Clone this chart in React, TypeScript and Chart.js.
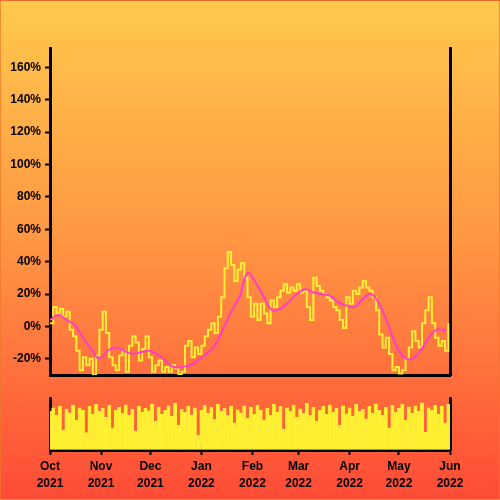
import { useEffect, useRef } from "react";
import { Chart, registerables } from "chart.js";
Chart.register(...registerables);

// daily % change sampled every 2 days, starting 1 Oct 2021
const dayStep = 2;
const priceChange = [
  2, 12, 8, 11, 6, 9, -2, -6, -15, -27,
  -19, -24, -20, -30, -18, -2, 9, -4, -19, -24,
  -27, -18, -15, -28, -12, -6, -10, -21, -14, -6,
  -19, -28, -24, -21, -28, -25, -28, -24, -26, -30,
  -28, -12, -9, -19, -13, -17, -12, -6, -2, 2,
  -4, 6, 18, 36, 46, 38, 28, 35, 39, 30,
  18, 6, 14, 4, 14, 8, 2, 16, 12, 18,
  22, 26, 21, 24, 22, 26, 21, 22, 12, 4,
  30, 25, 22, 20, 18, 16, 12, 10, 4, -1,
  18, 14, 22, 20, 24, 28, 24, 22, 18, 10,
  -5, -13, -7, -17, -27, -25, -29, -27, -20, -13,
  -3, -9, -13, 2, 10, 18, 2, -7, -12, -9,
  -15, 2,
];

// smoothed % change sampled every 5 days
const smoothStep = 5;
const smoothChange = [
  4, 7, 4, 1, -7, -14, -20, -15, -13, -15,
  -17, -16, -15, -17, -21, -25, -25, -24, -21, -17,
  -12, -2, 9, 18, 33, 27, 18, 10, 11, 15,
  20, 23, 21, 20, 19, 15, 13, 12, 17, 20,
  14, 2, -11, -19, -20, -15, -7, -2, -2.5,
];

// volume every 2 days
const volume = [
  78, 85, 70, 88, 40, 82, 75, 90, 60, 85,
  80, 35, 88, 72, 92, 78, 84, 66, 90, 45,
  80, 86, 74, 91, 70, 82, 38, 88, 76, 84,
  79, 93, 58, 86, 72, 80, 89, 68, 94, 50,
  82, 76, 88, 71, 85, 30, 80, 90, 74, 86,
  62, 92, 78, 84, 70, 88, 55, 81, 75, 89,
  64, 86, 72, 90, 80, 60, 84, 70, 92, 76,
  88, 42, 85, 78, 90, 66, 83, 74, 94, 70,
  86, 58, 80, 88, 72, 91, 76, 84, 50, 89,
  73, 85, 68, 92, 78, 82, 63, 88, 74, 93,
  80, 70, 86, 45, 90, 76, 84, 92, 60, 87,
  74, 89, 78, 95, 36, 85, 80, 90, 72, 88,
  55, 92,
];

const monthDays = [0, 31, 61, 92, 123, 151, 182, 212, 243];
const monthLabels = [
  ["Oct", "2021"], ["Nov", "2021"], ["Dec", "2021"], ["Jan", "2022"],
  ["Feb", "2022"], ["Mar", "2022"], ["Apr", "2022"], ["May", "2022"], ["Jun", "2022"],
];
const yTicks = [-20, 0, 20, 40, 60, 80, 100, 120, 140, 160];

export default function App() {
  const mainRef = useRef<HTMLCanvasElement>(null);
  const barRef = useRef<HTMLCanvasElement>(null);

  useEffect(() => {
    document.body.style.margin = "0";
    const font = { family: "'Liberation Sans', Arial, sans-serif", size: 12, weight: "bold" };
    const black = "#000";

    const main = new Chart(mainRef.current!, {
      type: "line",
      data: {
        datasets: [
          {
            data: smoothChange.map((v, i) => ({ x: i * smoothStep, y: v })),
            borderColor: "#FF3DC8",
            borderWidth: 2,
            pointRadius: 0,
            tension: 0.4,
            fill: false,
          },
          {
            data: priceChange.map((v, i) => ({ x: i * dayStep, y: v })),
            borderColor: "#FFF035",
            borderWidth: 2,
            pointRadius: 0,
            stepped: true,
            fill: false,
          },
        ],
      },
      options: {
        animation: false,
        responsive: false,
        maintainAspectRatio: false,
        layout: { padding: { top: 48, left: 0, right: 0, bottom: 0 } },
        plugins: { legend: { display: false }, tooltip: { enabled: false } },
        scales: {
          x: {
            type: "linear",
            min: 0,
            max: 243,
            ticks: { display: false },
            grid: { drawOnChartArea: false, drawTicks: false },
            border: { color: black, width: 3 },
            afterFit: (s: any) => { s.height = 125; },
          },
          y: {
            type: "linear",
            position: "left",
            min: -30,
            max: 172,
            afterBuildTicks: (s: any) => { s.ticks = yTicks.map((v) => ({ value: v })); },
            ticks: { callback: (v: any) => v + "%", color: black, font, padding: 4 },
            grid: { drawOnChartArea: false, drawTicks: true, tickLength: 5, tickColor: black, tickWidth: 2 },
            border: { color: black, width: 3 },
            afterFit: (s: any) => { s.width = 50; },
          },
          y2: {
            type: "linear",
            position: "right",
            min: -30,
            max: 172,
            ticks: { display: false },
            grid: { drawOnChartArea: false, drawTicks: false },
            border: { color: black, width: 3 },
            afterFit: (s: any) => { s.width = 50; },
          },
        },
      } as any,
    });

    const bars = new Chart(barRef.current!, {
      type: "bar",
      data: {
        datasets: [
          {
            data: volume.map((v, i) => ({ x: i * dayStep, y: v })),
            backgroundColor: "#FFF033",
            borderColor: "#FFF033",
            borderWidth: 0.6,
            borderSkipped: false,
            barPercentage: 1,
            categoryPercentage: 1,
          },
        ],
      },
      options: {
        animation: false,
        responsive: false,
        maintainAspectRatio: false,
        layout: { padding: { top: 398, left: 0, right: 0, bottom: 0 } },
        plugins: { legend: { display: false }, tooltip: { enabled: false } },
        scales: {
          x: {
            type: "linear",
            min: 0,
            max: 243,
            offset: false,
            afterBuildTicks: (s: any) => { s.ticks = monthDays.map((v) => ({ value: v })); },
            ticks: {
              callback: (v: any) => monthLabels[monthDays.indexOf(v)],
              color: black,
              font: { ...font, lineHeight: 1.35 },
              padding: 4,
              maxRotation: 0,
              autoSkip: false,
            },
            grid: { offset: false, drawOnChartArea: false, drawTicks: true, tickLength: 5, tickColor: black, tickWidth: 2 },
            border: { color: black, width: 3 },
            afterFit: (s: any) => { s.height = 50; },
          },
          y: {
            type: "linear",
            position: "left",
            min: 0,
            max: 105,
            ticks: { display: false },
            grid: { drawOnChartArea: false, drawTicks: false },
            border: { color: black, width: 3 },
            afterFit: (s: any) => { s.width = 50; },
          },
          y2: {
            type: "linear",
            position: "right",
            min: 0,
            max: 105,
            ticks: { display: false },
            grid: { drawOnChartArea: false, drawTicks: false },
            border: { color: black, width: 3 },
            afterFit: (s: any) => { s.width = 50; },
          },
        },
      } as any,
    });

    return () => {
      main.destroy();
      bars.destroy();
    };
  }, []);

  return (
    <div
      style={{
        position: "fixed",
        left: 0,
        top: 0,
        width: 500,
        height: 500,
        boxSizing: "border-box",
        border: "1px solid rgba(235,120,40,0.7)",
        background: "linear-gradient(to bottom, #FFC94C 0%, #FF9443 50%, #FF4B36 100%)",
      }}
    >
      <canvas ref={mainRef} width={500} height={500} style={{ position: "absolute", left: -1, top: -1 }} />
      <canvas ref={barRef} width={500} height={500} style={{ position: "absolute", left: -1, top: -1 }} />
    </div>
  );
}
